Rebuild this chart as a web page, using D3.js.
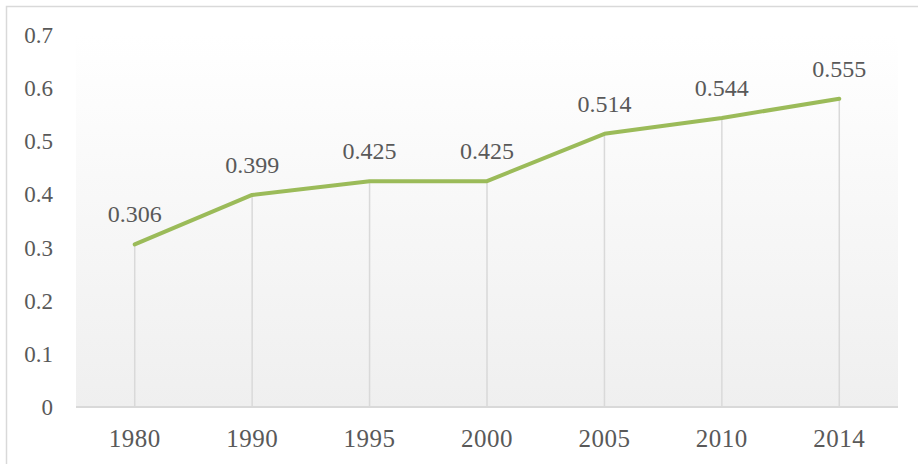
<!DOCTYPE html>
<html>
<head>
<meta charset="utf-8">
<script src="https://cdn.jsdelivr.net/npm/d3@7"></script>
<style>
  body { margin: 0; background: #fff; }
  text { font-family: "Liberation Serif", serif; fill: #595959; }
</style>
</head>
<body>
<svg id="chart" width="918" height="464"></svg>
<script>
var years = ["1980", "1990", "1995", "2000", "2005", "2010", "2014"];
// plotted positions (last point sits above its label)
var values = [0.306, 0.399, 0.425, 0.425, 0.514, 0.544, 0.58];
var labels = ["0.306", "0.399", "0.425", "0.425", "0.514", "0.544", "0.555"];
var yTicks = [0, 0.1, 0.2, 0.3, 0.4, 0.5, 0.6, 0.7];

var svg = d3.select("#chart");

var margin = {left: 76, right: 20, top: 35, bottom: 57};
var width = 918 - margin.left - margin.right,
    height = 464 - margin.top - margin.bottom;

var x = d3.scaleBand().domain(years).range([0, width]);
var y = d3.scaleLinear().domain([0, 0.7]).range([height, 0]);

// outer frame
svg.append("path")
    .attr("d", "M6.5,464V6.5H918")
    .attr("fill", "none")
    .attr("stroke", "#d9d9d9")
    .attr("stroke-width", 1.5);

var defs = svg.append("defs");
var grad = defs.append("linearGradient")
    .attr("id", "bg")
    .attr("x1", 0).attr("y1", 0).attr("x2", 0).attr("y2", 1);
grad.append("stop").attr("offset", "0%").attr("stop-color", "#ffffff");
grad.append("stop").attr("offset", "100%").attr("stop-color", "#efefef");

var g = svg.append("g")
    .attr("transform", "translate(" + margin.left + "," + margin.top + ")");

g.append("rect")
    .attr("width", width)
    .attr("height", height)
    .attr("fill", "url(#bg)");

function cx(d) { return x(d) + x.bandwidth() / 2; }

// drop lines
g.selectAll(".drop")
    .data(years)
    .enter().append("line")
    .attr("x1", cx).attr("x2", cx)
    .attr("y1", function (d, i) { return y(values[i]); })
    .attr("y2", y(0))
    .attr("stroke", "#d9d9d9")
    .attr("stroke-width", 1.5);

// x axis line
g.append("line")
    .attr("x1", 0).attr("x2", width)
    .attr("y1", y(0)).attr("y2", y(0))
    .attr("stroke", "#d9d9d9")
    .attr("stroke-width", 2);

// y labels
g.selectAll(".ytick")
    .data(yTicks)
    .enter().append("text")
    .attr("x", -23)
    .attr("y", function (d) { return y(d) + 8; })
    .attr("text-anchor", "end")
    .style("font-size", "23px")
    .text(function (d) { return d; });

// x labels
g.selectAll(".xtick")
    .data(years)
    .enter().append("text")
    .attr("x", cx)
    .attr("y", height + 40)
    .attr("text-anchor", "middle")
    .style("font-size", "25px")
    .style("letter-spacing", "0.5px")
    .text(function (d) { return d; });

var line = d3.line()
    .x(function (d, i) { return cx(years[i]); })
    .y(function (d) { return y(d); });

g.append("path")
    .datum(values)
    .attr("d", line)
    .attr("fill", "none")
    .attr("stroke", "#9bbb59")
    .attr("stroke-width", 4)
    .attr("stroke-linecap", "round")
    .attr("stroke-linejoin", "round");

// data labels
g.selectAll(".dlabel")
    .data(values)
    .enter().append("text")
    .attr("x", function (d, i) { return cx(years[i]); })
    .attr("y", function (d) { return y(d) - 22; })
    .attr("text-anchor", "middle")
    .style("font-size", "24px")
    .text(function (d, i) { return labels[i]; });
</script>
</body>
</html>
